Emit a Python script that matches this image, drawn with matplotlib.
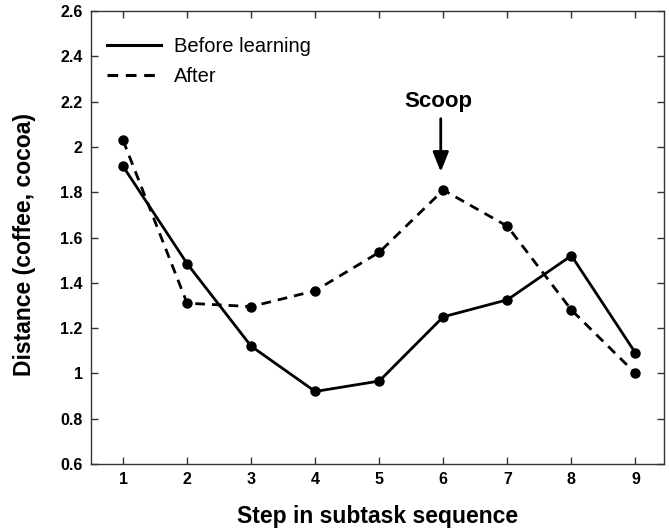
import matplotlib
matplotlib.use("Agg")
import matplotlib.pyplot as plt
from matplotlib.font_manager import FontProperties

steps = [1, 2, 3, 4, 5, 6, 7, 8, 9]
before = [1.915, 1.485, 1.12, 0.92, 0.966, 1.25, 1.325, 1.52, 1.09]
after = [2.03, 1.31, 1.295, 1.365, 1.535, 1.81, 1.65, 1.28, 1.0]
yticks = [0.6, 0.8, 1.0, 1.2, 1.4, 1.6, 1.8, 2.0, 2.2, 2.4, 2.6]
ytick_labels = ["0.6", "0.8", "1", "1.2", "1.4", "1.6", "1.8", "2", "2.2", "2.4", "2.6"]

fig = plt.figure(figsize=(6.69, 5.32), dpi=100)
ax = fig.add_axes([0.136, 0.128, 0.857, 0.851])

ax.plot(steps, before, '-', color='black', lw=2.0, marker='o', ms=6.5, label='Before learning')
ax.plot(steps, after, '--', color='black', lw=2.0, marker='o', ms=6.5, dashes=(3.5, 2.5), label='After')

ax.set_xlim(0.5, 9.45)
ax.set_ylim(0.6, 2.6)
ax.set_xticks(steps)
ax.set_yticks(yticks)
ax.set_yticklabels(ytick_labels)

fp = FontProperties(family='Liberation Sans', weight='bold', size=11.5)
for lab in ax.get_xticklabels() + ax.get_yticklabels():
    lab.set_fontproperties(fp)

ax.tick_params(direction='in', top=True, right=True, length=5, width=1, color='#333333', pad=6)
for s in ax.spines.values():
    s.set_color('#333333')
    s.set_linewidth(1)

ax.set_xlabel('Step in subtask sequence', family='Liberation Sans', weight='bold', size=16.5, labelpad=13)
ax.set_ylabel('Distance (coffee, cocoa)', family='Liberation Sans', weight='bold', size=16.5)
ax.yaxis.set_label_coords(-0.096, 0.485)

ax.text(5.92, 2.2, 'Scoop', ha='center', va='center',
        family='Liberation Sans', weight='bold', size=16)
ax.annotate('', xy=(5.96, 1.89), xytext=(5.96, 2.125),
            arrowprops=dict(arrowstyle='-|>,head_width=0.3,head_length=0.75', color='black', lw=2,
                            shrinkA=0, shrinkB=0, mutation_scale=16))

leg = ax.legend(loc='upper left', bbox_to_anchor=(0.0, 1 - 10 / 453), frameon=False,
                prop=dict(family='Liberation Sans', size=14.5),
                handlelength=2.7, borderaxespad=0.4, labelspacing=0.55, handletextpad=0.6)
for h in leg.get_lines():
    h.set_marker('')
    h.set_linewidth(2.2)

fig.savefig('out.png', dpi=100)
